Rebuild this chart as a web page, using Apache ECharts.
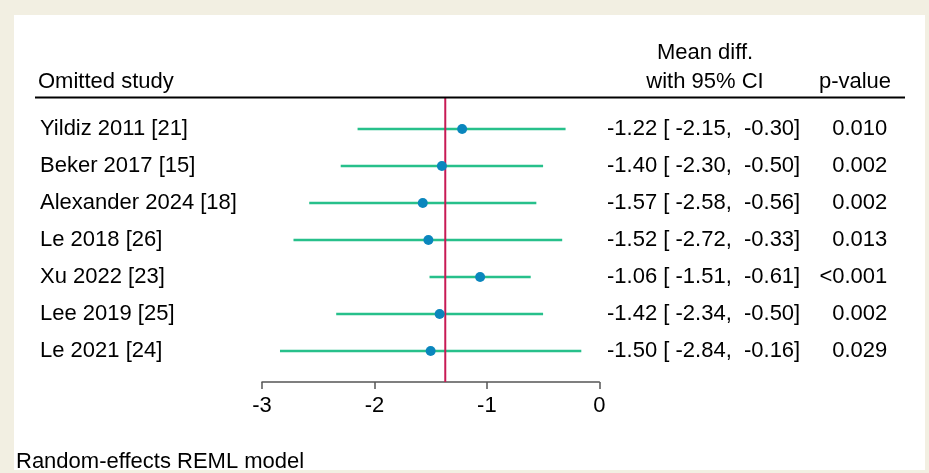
<!DOCTYPE html>
<html>
<head>
<meta charset="utf-8">
<script src="https://cdn.jsdelivr.net/npm/echarts@6/dist/echarts.min.js"></script>
<style>
html,body{margin:0;padding:0;background:#f2efe2;}
#c{width:929px;height:473px;}
</style>
</head>
<body>
<div id="c"></div>
<script>
// ---- data ----
var studies = ['Yildiz 2011 [21]', 'Beker 2017 [15]', 'Alexander 2024 [18]', 'Le 2018 [26]', 'Xu 2022 [23]', 'Lee 2019 [25]', 'Le 2021 [24]'];
var estimates = [-1.22, -1.40, -1.57, -1.52, -1.06, -1.42, -1.50];
var ciLow = [-2.15, -2.30, -2.58, -2.72, -1.51, -2.34, -2.84];
var ciHigh = [-0.30, -0.50, -0.56, -0.33, -0.61, -0.50, -0.16];
var pValues = ['0.010', '0.002', '0.002', '0.013', '<0.001', '0.002', '0.029'];
var overallEffect = -1.37;
var xTicks = [-3, -2, -1, 0];

var FONT = 'Liberation Sans, Arial, Helvetica, sans-serif';
function f2(v){ return v.toFixed(2); }
var ciText = estimates.map(function(v, i){
  return f2(v) + ' [ ' + f2(ciLow[i]) + ',  ' + f2(ciHigh[i]) + ']';
});

var chart = echarts.init(document.getElementById('c'), null, {renderer: 'canvas'});

var gridLeft = 262, gridRight = 929 - 599.3;
var rowLabel = {interval: 0, fontSize: 22, color: '#000', fontFamily: FONT, padding: [3, 0, 0, 0]};

var option = {
  backgroundColor: '#f2efe2',
  animation: false,
  textStyle: {fontFamily: FONT},
  grid: [
    {left: gridLeft, right: gridRight, top: 110.5, height: 259, outerBoundsMode: 'none', containLabel: false},
    {left: gridLeft, right: gridRight, top: 97, bottom: 473 - 382, outerBoundsMode: 'none', containLabel: false}
  ],
  xAxis: [
    {
      gridIndex: 0, type: 'value', min: xTicks[0], max: xTicks[xTicks.length - 1], interval: 1,
      offset: 12.5,
      axisLine: {show: true, lineStyle: {color: '#555', width: 1.5}},
      axisTick: {show: true, inside: false, length: 7, lineStyle: {color: '#555', width: 1.5}},
      axisLabel: {margin: 13, fontSize: 22, color: '#000', fontFamily: FONT},
      splitLine: {show: false}
    },
    {gridIndex: 1, type: 'value', min: xTicks[0], max: xTicks[xTicks.length - 1], show: false}
  ],
  yAxis: [
    {
      gridIndex: 0, type: 'category', data: studies, inverse: true, position: 'left',
      axisLine: {show: false}, axisTick: {show: false}, splitLine: {show: false},
      axisLabel: Object.assign({}, rowLabel, {align: 'left', margin: 222})
    },
    {
      gridIndex: 0, type: 'category', data: ciText, inverse: true, position: 'right',
      axisLine: {show: false}, axisTick: {show: false}, splitLine: {show: false},
      axisLabel: Object.assign({}, rowLabel, {align: 'left', margin: 7.7})
    },
    {
      gridIndex: 0, type: 'category', data: pValues, inverse: true, position: 'right',
      axisLine: {show: false}, axisTick: {show: false}, splitLine: {show: false},
      axisLabel: Object.assign({}, rowLabel, {align: 'right', margin: 288})
    },
    {gridIndex: 1, type: 'value', min: 0, max: 1, show: false}
  ],
  graphic: [
    {type: 'rect', z: -10, shape: {x: 14, y: 15, width: 911, height: 455}, style: {fill: '#ffffff'}, silent: true},
    {type: 'line', z: 10, shape: {x1: 35, y1: 97.5, x2: 905, y2: 97.5}, style: {stroke: '#000', lineWidth: 2}},
    {type: 'text', style: {text: 'Omitted study', x: 38, y: 81.5, align: 'left', verticalAlign: 'middle', fill: '#000', font: '22px ' + FONT}},
    {type: 'text', style: {text: 'Mean diff.', x: 705, y: 52.5, align: 'center', verticalAlign: 'middle', fill: '#000', font: '22px ' + FONT}},
    {type: 'text', style: {text: 'with 95% CI', x: 705, y: 81.5, align: 'center', verticalAlign: 'middle', fill: '#000', font: '22px ' + FONT}},
    {type: 'text', style: {text: 'p-value', x: 855, y: 81.5, align: 'center', verticalAlign: 'middle', fill: '#000', font: '22px ' + FONT}},
    {type: 'text', style: {text: 'Random-effects REML model', x: 16, y: 461.5, align: 'left', verticalAlign: 'middle', fill: '#000', font: '22px ' + FONT}}
  ],
  series: [
    {
      type: 'custom', xAxisIndex: 0, yAxisIndex: 0, z: 2,
      data: studies.map(function(s, i){ return [ciLow[i], ciHigh[i], i]; }),
      encode: {x: [0, 1], y: 2},
      renderItem: function(params, api){
        var a = api.coord([api.value(0), api.value(2)]);
        var b = api.coord([api.value(1), api.value(2)]);
        return {type: 'line', shape: {x1: a[0], y1: a[1], x2: b[0], y2: b[1]},
                style: {stroke: '#27c08b', lineWidth: 2.4}};
      }
    },
    {
      type: 'line', xAxisIndex: 1, yAxisIndex: 3, z: 3, symbol: 'none', silent: true,
      data: [[overallEffect, 0], [overallEffect, 1]],
      lineStyle: {color: '#c81a55', width: 2}
    },
    {
      type: 'scatter', xAxisIndex: 0, yAxisIndex: 0, z: 4,
      data: estimates.map(function(v, i){ return [v, i]; }),
      symbol: 'circle', symbolSize: 10,
      itemStyle: {color: '#0a86bd', opacity: 1}
    }
  ]
};
chart.setOption(option);
</script>
</body>
</html>
